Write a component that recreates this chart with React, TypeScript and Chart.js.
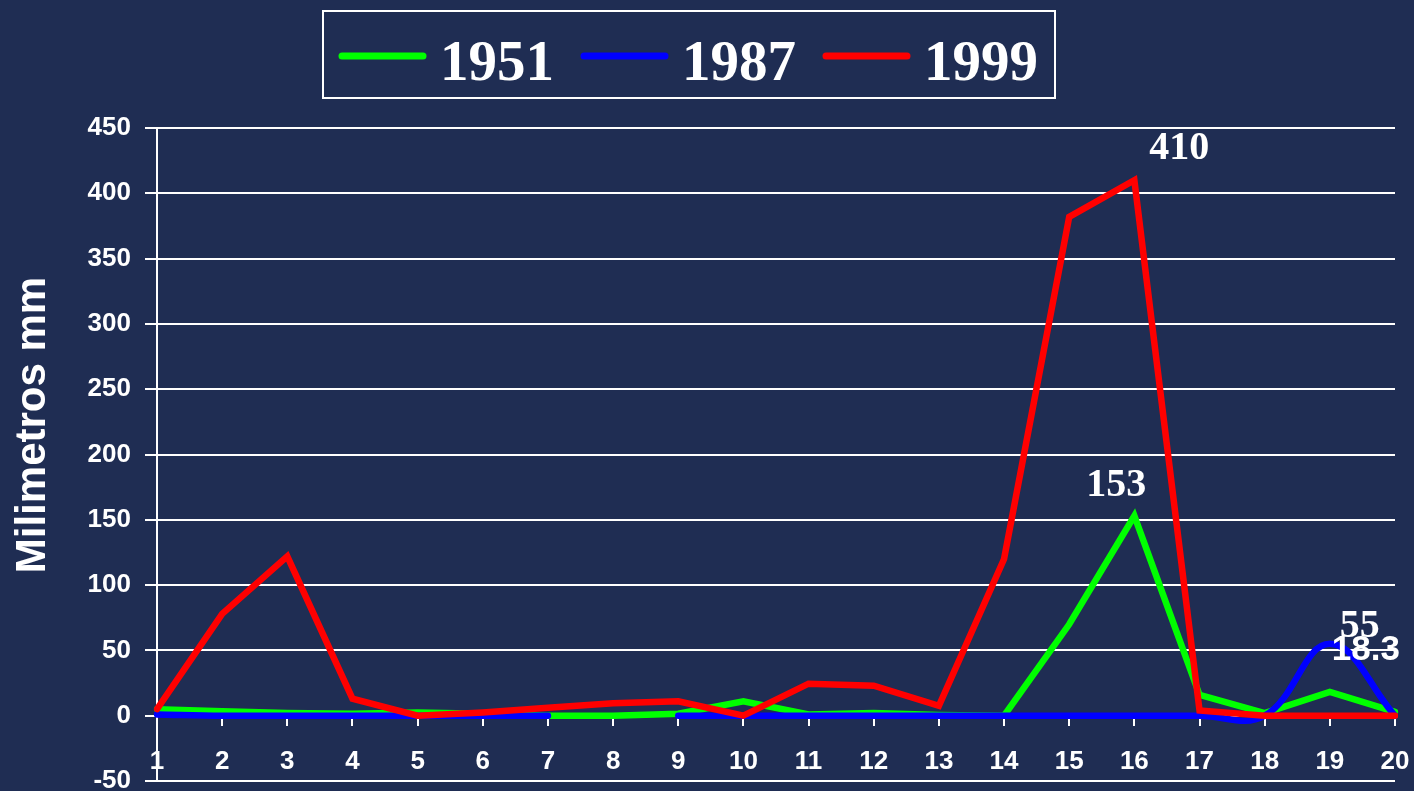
import React, { useEffect, useRef } from "react";
import { Chart, registerables } from "chart.js";

Chart.register(...registerables);

// ---- data ----
const categories = ["1", "2", "3", "4", "5", "6", "7", "8", "9", "10", "11", "12", "13", "14", "15", "16", "17", "18", "19", "20"];
const values1951 = [5, 3.5, 2, 1.5, 2.5, 1.5, 0, 0, 1.5, 11, 1, 2, 0.5, 0, 70, 153, 16, 2, 18.3, 3];
const values1987 = [1, 0, 0, 0, 0, 0, 0, null, 0, 0, 0, 0, 0, 0, 0, 0, 0, 0, 55, 0];
const values1999 = [5, 78, 122, 13, 0, 2.5, 6, 9.5, 11, 0, 24.5, 23, 7.5, 120, 382, 410, 4, 0, 0, 0];
const seriesLabels = ["1951", "1987", "1999"];
const yTickValues = [-50, 0, 50, 100, 150, 200, 250, 300, 350, 400, 450];
const yTitle = "Milimetros mm";
// value labels: [dataset index, point index, text]
const valueLabelDatasets = [2, 0, 1, 0];
const valueLabelPoints = [15, 15, 18, 18];
const valueLabelTexts = ["410", "153", "55", "18.3"];

// ---- styles ----
const BG = "#1f2d53";
const COLORS = ["#00ff00", "#0000ff", "#ff0000"];
const LABEL_STYLE = [
  { dx: 45, dy: -32, font: "bold 40px 'Liberation Serif'" },
  { dx: -18, dy: -30, font: "bold 40px 'Liberation Serif'" },
  { dx: 30, dy: -17, font: "bold 40px 'Liberation Serif'" },
  { dx: 36, dy: -41, font: "bold 35px 'Liberation Sans'" },
];

const bgPlugin = {
  id: "bgFill",
  beforeDraw(chart: any) {
    const { ctx, width, height } = chart;
    ctx.save();
    ctx.fillStyle = BG;
    ctx.fillRect(0, 0, width, height);
    ctx.restore();
  },
};

const yTitlePlugin = {
  id: "yTitle",
  afterDraw(chart: any) {
    const ctx = chart.ctx;
    ctx.save();
    ctx.translate(33, 425);
    ctx.rotate(-Math.PI / 2);
    ctx.fillStyle = "#ffffff";
    ctx.font = "bold 42px 'Liberation Sans'";
    ctx.textAlign = "center";
    ctx.textBaseline = "middle";
    ctx.fillText(yTitle, 0, 0);
    ctx.restore();
  },
};

const valueLabelPlugin = {
  id: "valueLabels",
  afterDatasetsDraw(chart: any) {
    const ctx = chart.ctx;
    ctx.save();
    ctx.fillStyle = "#ffffff";
    ctx.textAlign = "center";
    ctx.textBaseline = "middle";
    valueLabelTexts.forEach((t, i) => {
      const meta = chart.getDatasetMeta(valueLabelDatasets[i]);
      const el = meta.data[valueLabelPoints[i]];
      if (!el) return;
      const st = LABEL_STYLE[i];
      ctx.font = st.font;
      ctx.fillText(t, el.x + st.dx, el.y + st.dy);
    });
    ctx.restore();
  },
};

const legendPlugin = {
  id: "boxLegend",
  afterDraw(chart: any) {
    const ctx = chart.ctx;
    ctx.save();
    ctx.strokeStyle = "#ffffff";
    ctx.lineWidth = 2;
    ctx.strokeRect(323, 11, 732, 87);
    ctx.font = "bold 57px 'Liberation Serif'";
    ctx.textBaseline = "alphabetic";
    ctx.textAlign = "left";
    let x = 339;
    const lineY = 56;
    chart.data.datasets.forEach((ds: any) => {
      ctx.strokeStyle = ds.borderColor;
      ctx.lineWidth = 7;
      ctx.lineCap = "round";
      ctx.beginPath();
      ctx.moveTo(x + 3, lineY);
      ctx.lineTo(x + 84, lineY);
      ctx.stroke();
      x += 87 + 14;
      ctx.fillStyle = "#ffffff";
      ctx.fillText(ds.label, x, 80);
      x += ctx.measureText(ds.label).width + 27;
    });
    ctx.restore();
  },
};

export default function App() {
  const ref = useRef<HTMLCanvasElement | null>(null);
  useEffect(() => {
    if (!ref.current) return;
    const datasets = [
      { label: seriesLabels[0], data: values1951, borderColor: COLORS[0], backgroundColor: COLORS[0], borderWidth: 6.5, tension: 0, order: 3 },
      { label: seriesLabels[1], data: values1987, borderColor: COLORS[1], backgroundColor: COLORS[1], borderWidth: 6.5, tension: 0.4, order: 2 },
      { label: seriesLabels[2], data: values1999, borderColor: COLORS[2], backgroundColor: COLORS[2], borderWidth: 6.5, tension: 0, order: 1 },
    ].map((d) => ({ ...d, pointRadius: 0, pointHoverRadius: 0, fill: false, spanGaps: false, borderCapStyle: "round" as const }));

    const chart = new Chart(ref.current, {
      type: "line",
      data: { labels: categories, datasets },
      options: {
        animation: false,
        responsive: true,
        maintainAspectRatio: false,
        layout: { padding: { top: 128, left: 0, right: 19, bottom: 10 } },
        plugins: { legend: { display: false }, tooltip: { enabled: false } },
        scales: {
          x: {
            type: "category",
            offset: false,
            position: { y: 0 } as any,
            afterFit: (scale: any) => {
              scale.paddingLeft = 0;
              scale.paddingRight = 0;
              scale.paddingTop = 0;
              scale.paddingBottom = 0;
            },
            grid: { drawOnChartArea: false, drawTicks: true, tickLength: 10, color: "#ffffff", lineWidth: 2 },
            border: { display: false },
            ticks: {
              color: "#ffffff",
              font: { family: "'Liberation Sans'", size: 26, weight: "bold" },
              padding: 21,
              maxRotation: 0,
              autoSkip: false,
            },
          },
          y: {
            min: -50,
            max: 450,
            afterBuildTicks: (scale: any) => {
              scale.ticks = yTickValues.map((v) => ({ value: v }));
            },
            afterFit: (scale: any) => {
              scale.width = 157;
              scale.paddingTop = 0;
              scale.paddingBottom = 0;
            },
            grid: { color: "#ffffff", lineWidth: 2, drawTicks: true, tickLength: 12 },
            border: { display: true, color: "#ffffff", width: 2 },
            ticks: {
              color: "#ffffff",
              font: { family: "'Liberation Sans'", size: 26, weight: "bold", lineHeight: 0.8 },
              padding: 14,
            },
            title: { display: false },
          },
        },
      },
      plugins: [bgPlugin, valueLabelPlugin, legendPlugin, yTitlePlugin],
    });
    return () => chart.destroy();
  }, []);

  return (
    <div style={{ position: "absolute", left: 0, top: 0, width: 1414, height: 791, background: BG }}>
      <canvas ref={ref} style={{ width: "100%", height: "100%" }} />
    </div>
  );
}
